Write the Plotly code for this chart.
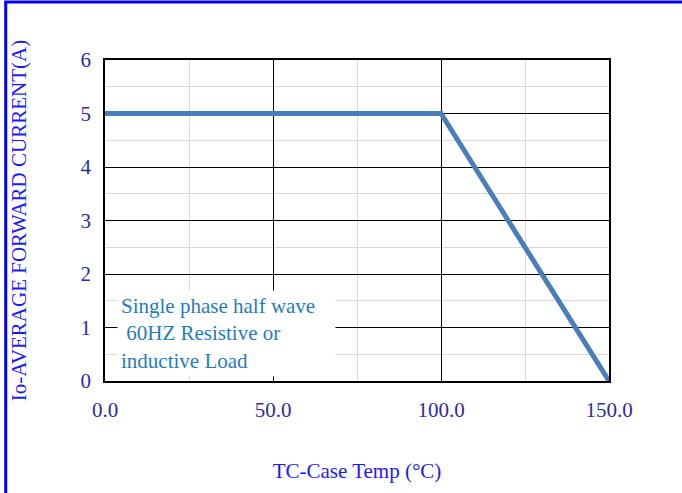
import plotly.graph_objects as go

# derating curve
temp_c = [0, 100, 150]
current_a = [5, 5, 0]

x_ticks = [0, 50, 100, 150]
y_ticks = [0, 1, 2, 3, 4, 5, 6]

LINE_COLOR = "#4a7ebb"
TICK_COLOR = "#2b2ba6"
TITLE_COLOR = "#1a1aff"
NOTE_COLOR = "#1f7cc4"
FONT = "Liberation Serif, Times New Roman, serif"

fig = go.Figure()
fig.add_trace(go.Scatter(
    x=temp_c, y=current_a, mode="lines",
    line=dict(color=LINE_COLOR, width=5),
    showlegend=False, hoverinfo="skip",
))

axis_common = dict(
    showline=True, linecolor="black", linewidth=1.5, mirror=True,
    showgrid=True, gridcolor="black", gridwidth=1,
    zeroline=False, ticks="",
    tickfont=dict(family=FONT, size=21, color=TICK_COLOR),
)

fig.update_xaxes(
    **axis_common,
    range=[0, 150], tickvals=x_ticks, tickformat=".1f",
    minor=dict(dtick=25, showgrid=True, gridcolor="#d9d9d9", gridwidth=1),
    title=dict(text="TC-Case Temp (°C)", standoff=42,
               font=dict(family=FONT, size=21, color=TITLE_COLOR)),
    ticklabelstandoff=9,
)
fig.update_yaxes(
    **axis_common,
    range=[0, 6], tickvals=y_ticks,
    minor=dict(dtick=0.5, showgrid=True, gridcolor="#d9d9d9", gridwidth=1),
    title=dict(text="Io-AVERAGE FORWARD CURRENT(A)", standoff=48,
               font=dict(family=FONT, size=21, color=TITLE_COLOR)),
    ticklabelstandoff=8,
)

fig.add_annotation(
    xref="paper", yref="paper", x=0.024, y=0.012,
    xanchor="left", yanchor="bottom",
    text="Single phase half wave<br>&nbsp;60HZ Resistive or<br>inductive Load",
    align="left", showarrow=False,
    font=dict(family=FONT, size=21, color=NOTE_COLOR),
    bgcolor="white", width=211, borderpad=3,
)

# blue frame along the top and left of the picture
fig.add_shape(type="line", xref="paper", yref="paper",
              x0=-0.2, x1=1.2, y0=1.181, y1=1.181,
              line=dict(color="#0000ff", width=3))
fig.add_shape(type="line", xref="paper", yref="paper",
              x0=-0.197, x1=-0.197, y0=-0.4, y1=1.181,
              line=dict(color="#0000ff", width=3))

fig.update_layout(
    width=682, height=493,
    margin=dict(l=105, r=73, t=60, b=112),
    paper_bgcolor="white", plot_bgcolor="white",
    font=dict(family=FONT),
)

fig.write_html("out.html", config={"displayModeBar": False},
               post_script="document.body.style.margin='0';")
